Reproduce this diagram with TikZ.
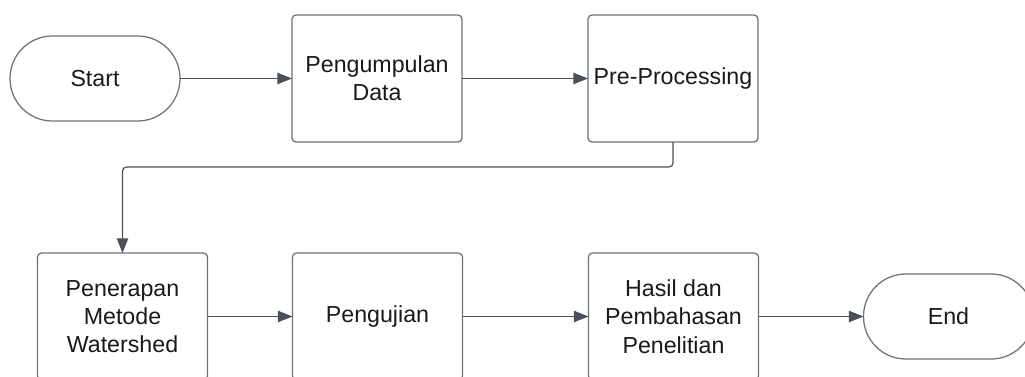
\documentclass[tikz,border=0pt]{standalone}
\usepackage{fontspec}
\setmainfont{Liberation Sans}
\usepackage{tikz}
\usetikzlibrary{arrows.meta,positioning}

\definecolor{garis}{HTML}{4B505A}
\definecolor{tepi}{HTML}{6E727A}

\begin{document}
\begin{tikzpicture}[
    x=0.75pt, y=0.75pt,
    box/.style={draw=tepi, line width=0.95pt, rounded corners=3pt, align=center, minimum width=127.5pt, minimum height=95.25pt, inner sep=0pt, outer sep=0pt, font=\fontsize{17.4}{21.2}\selectfont, text=black!90},
    terminal/.style={box, rounded corners=31.8pt, minimum height=63.75pt},
    arr/.style={-{Triangle[length=11pt,width=8.5pt]}, draw=garis, line width=0.9pt}
  ]
    \useasboundingbox (0,0) rectangle (1025,-376);
    \clip (0,0) rectangle (1025,-376);
    % baris atas
    \node[terminal] (start) at (95,-78.5) {Start};
    \node[box, right=84pt of start] (kumpul) {Pengumpulan\\Data};
    \node[box, right=94.5pt of kumpul] (prepro) {Pre-Processing};
    % baris bawah
    \node[box] (watershed) at (122.5,-316.5) {Penerapan\\Metode\\Watershed};
    \node[box, right=63.75pt of watershed] (uji) {Pengujian};
    \node[box, right=94.5pt of uji] (hasil) {Hasil dan\\Pembahasan\\Penelitian};
    \node[terminal, right=78.75pt of hasil] (end) {End};
    \draw[arr] (start) -- (kumpul);
    \draw[arr] (kumpul) -- (prepro);
    \draw[arr, rounded corners=3pt] (prepro.south) -- ++(0,-25) -| (watershed.north);
    \draw[arr] (watershed) -- (uji);
    \draw[arr] (uji) -- (hasil);
    \draw[arr] (hasil) -- (end);
  \end{tikzpicture}
\end{document}
